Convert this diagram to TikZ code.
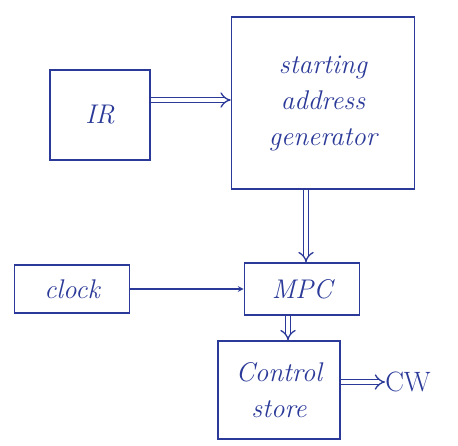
\documentclass[tikz,border=0pt]{standalone}
\usetikzlibrary{arrows}
\definecolor{ink}{HTML}{2B3A98}
\begin{document}
\begin{tikzpicture}[x=1pt,y=-1pt,
  box/.style={draw=ink, line width=1.6pt, text=ink, font=\itshape\fontsize{27}{36}\selectfont, align=center, inner sep=0pt},
  dbl/.style={draw=ink, line width=1.3pt, double, double distance=4pt, -implies},
  sgl/.style={draw=ink, line width=1.6pt, -stealth}]
\useasboundingbox[fill=white] (0,0) rectangle (458,445);
\node[box, minimum width=100pt, minimum height=90pt] (ir) at (100,115) {IR};
\node[box, minimum width=183pt, minimum height=172pt] (sag) at (323,103) {starting\\address\\generator};
\node[box, minimum width=115pt, minimum height=48pt] (clk) at (72,289) {clock};
\node[box, minimum width=115pt, minimum height=52pt] (mpc) at (302,289) {MPC};
\node[box, minimum width=122pt, minimum height=98pt] (cs) at (279,390) {Control\\store};
\node[text=ink, font=\fontsize{28}{30}\selectfont, inner sep=0pt] (cw) at (408,382) {CW};
\draw[dbl] (ir.east |- 0,100) -- (sag.west |- 0,100);
\draw[dbl] (sag.south -| 306,0) -- (mpc.north -| 306,0);
\draw[sgl] (clk.east) -- (mpc.west);
\draw[dbl] (mpc.south -| 288,0) -- (cs.north -| 288,0);
\draw[dbl] (cs.east |- cw.west) -- (cw.west);
\end{tikzpicture}
\end{document}
